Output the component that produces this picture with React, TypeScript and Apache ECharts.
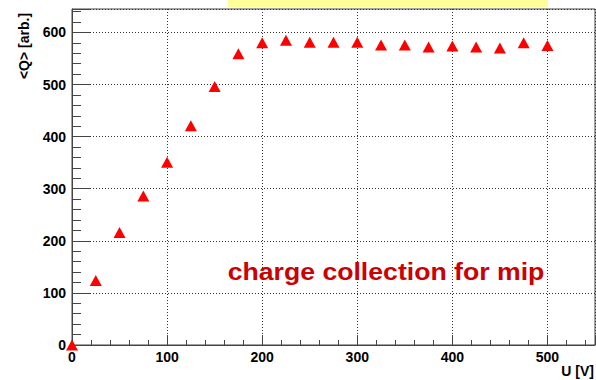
import React, { useEffect, useRef } from "react";
import * as echarts from "echarts";

const voltages = [0, 25, 50, 75, 100, 125, 150, 175, 200, 225, 250, 275, 300, 325, 350, 375, 400, 425, 450, 475, 500];
const charges = [0, 124, 216, 286, 351, 421, 496, 559, 580, 585, 581, 581, 581, 576, 576, 572, 574, 572, 570, 580, 575];
const xTitle = "U [V]";
const yTitle = "<Q> [arb.]";
const annotation = "charge collection for mip";

export default function App() {
  const ref = useRef<HTMLDivElement>(null);
  useEffect(() => {
    if (!ref.current) return;
    const chart = echarts.init(ref.current, undefined, { renderer: "svg" });
    const font = "Liberation Sans, Arial, sans-serif";
    chart.setOption({
      animation: false,
      backgroundColor: "#ffffff",
      grid: {
        left: 72,
        right: 1,
        top: 9,
        bottom: 35,
        show: true,
        borderColor: "#444",
        borderWidth: 1,
        backgroundColor: "transparent",
      },
      xAxis: {
        type: "value",
        min: 0,
        max: 550,
        interval: 100,
        axisLine: { show: true, lineStyle: { color: "#444", width: 1 } },
        axisTick: { show: true, inside: true, length: 10, lineStyle: { color: "#444", width: 1 } },
        minorTick: { show: true, splitNumber: 5, length: 5, lineStyle: { color: "#444", width: 1 } },
        splitLine: { show: true, lineStyle: { color: "#333", type: [1, 2], width: 1 } },
        axisLabel: {
          color: "#000",
          fontFamily: font,
          fontWeight: "bold",
          fontSize: 14,
          margin: 5,
          showMaxLabel: false,
        },
      },
      yAxis: {
        type: "value",
        min: 0,
        max: 645,
        interval: 100,
        axisLine: { show: true, lineStyle: { color: "#444", width: 1 } },
        axisTick: { show: true, inside: true, length: 18, lineStyle: { color: "#444", width: 1 } },
        minorTick: { show: true, splitNumber: 5, length: 9, lineStyle: { color: "#444", width: 1 } },
        splitLine: { show: true, lineStyle: { color: "#333", type: [1, 2], width: 1 } },
        axisLabel: {
          color: "#000",
          fontFamily: font,
          fontWeight: "bold",
          fontSize: 14,
          margin: 6,
          showMaxLabel: false,
        },
      },
      series: [
        {
          type: "scatter",
          data: voltages.map((v, i) => [v, charges[i]]),
          symbol: "triangle",
          symbolSize: [12, 11],
          itemStyle: { color: "#ff0000", opacity: 1 },
        },
      ],
      graphic: [
        {
          type: "rect",
          shape: { x: 228, y: 0, width: 320, height: 7 },
          style: { fill: "#ffff99" },
          z: 100,
        },
        {
          type: "text",
          x: 24,
          y: 46,
          rotation: Math.PI / 2,
          style: {
            text: yTitle,
            fontFamily: font,
            fontWeight: "bold",
            fontSize: 14,
            fill: "#000",
            align: "center",
            verticalAlign: "middle",
          },
        },
        {
          type: "text",
          x: 594,
          y: 371,
          style: {
            text: xTitle,
            fontFamily: font,
            fontWeight: "bold",
            fontSize: 14,
            fill: "#000",
            align: "right",
            verticalAlign: "middle",
          },
        },
        {
          type: "text",
          x: 386,
          y: 271,
          scaleX: 1.11,
          style: {
            text: annotation,
            fontFamily: font,
            fontWeight: "bold",
            fontSize: 24,
            fill: "#cc0000",
            align: "center",
            verticalAlign: "middle",
          },
          z: 100,
        },
      ],
    });
    return () => chart.dispose();
  }, []);
  return (
    <div
      ref={ref}
      style={{ position: "fixed", left: 0, top: 0, width: 596, height: 380 }}
    />
  );
}
